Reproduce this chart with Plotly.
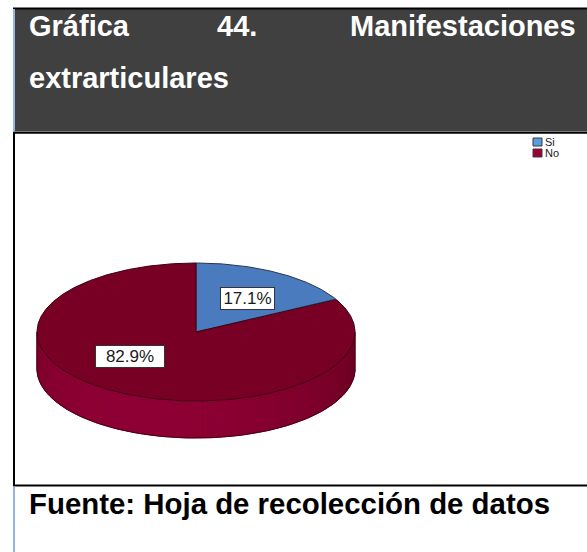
import numpy as np
import plotly.graph_objects as go

# Data
categories = ["Si", "No"]
percentages = [17.1, 82.9]

# Styling
TOP_COLORS = ["#4A7BBE", "#790025"]
EDGE_COLORS = ["#263650", "#3E0012"]
LEGEND_COLORS = ["#5B9BE3", "#99003A"]
SIDE_DARK = np.array([0x5C, 0x00, 0x1B])
SIDE_LIGHT = np.array([0x8E, 0x00, 0x33])
FONT = "Liberation Sans, Arial, sans-serif"

W, H = 587, 552
# Pie geometry (pixel space of the page)
CX, CY, RX, RY, DEPTH = 196, 332, 159, 69, 37
START_ANGLE = 90.0


def ellipse_pt(theta_deg, dy=0.0):
    t = np.radians(theta_deg)
    return CX + RX * np.cos(t), CY - RY * np.sin(t) + dy


def side_color(theta_deg):
    # light coming from the front-left
    k = 0.5 + 0.5 * np.cos(np.radians(theta_deg - 250.0))
    c = SIDE_DARK + (SIDE_LIGHT - SIDE_DARK) * k ** 1.2
    return "rgb(%d,%d,%d)" % tuple(int(round(v)) for v in c)


total = float(sum(percentages))
bounds = [START_ANGLE]
for p in percentages:
    bounds.append(bounds[-1] - 360.0 * p / total)

fig = go.Figure()

# --- side walls (only the front half of the cylinder is visible) ---
for i in range(len(categories)):
    a0, a1 = bounds[i], bounds[i + 1]
    span = a0 - a1
    n = max(int(span / 1.5), 1)
    edges = np.linspace(a0, a1, n + 1)
    # base wall for the slice's visible part
    vis = [a for a in np.linspace(a0, a1, n * 4 + 1) if np.sin(np.radians(a)) <= 1e-9]
    if len(vis) > 1:
        xs_top, ys_top = ellipse_pt(np.array(vis))
        xs_bot, ys_bot = ellipse_pt(np.array(vis[::-1]), DEPTH)
        fig.add_trace(go.Scatter(
            x=np.concatenate([xs_top, xs_bot]), y=np.concatenate([ys_top, ys_bot]),
            mode="lines", fill="toself", fillcolor=side_color(np.mean(vis)),
            line=dict(width=0), hoverinfo="skip", showlegend=False))
    for j in range(n):
        s0, s1 = edges[j], edges[j + 1]
        mid = 0.5 * (s0 + s1)
        if np.sin(np.radians(mid)) > 0:
            continue
        seg = np.linspace(s0, s1, 4)
        xs_top, ys_top = ellipse_pt(seg)
        xs_bot, ys_bot = ellipse_pt(seg[::-1], DEPTH)
        col = side_color(mid % 360)
        fig.add_trace(go.Scatter(
            x=np.concatenate([xs_top, xs_bot]), y=np.concatenate([ys_top, ys_bot]),
            mode="lines", fill="toself", fillcolor=col,
            line=dict(width=0.8, color=col), hoverinfo="skip", showlegend=False))

# outline of the bottom rim and the vertical edges
rim = np.linspace(180, 360, 181)
bx, by = ellipse_pt(rim, DEPTH)
fig.add_trace(go.Scatter(x=bx, y=by, mode="lines", line=dict(width=1, color="#4A0016"),
                         hoverinfo="skip", showlegend=False))
for a in (180, 360):
    x0, y0 = ellipse_pt(a)
    fig.add_trace(go.Scatter(x=[x0, x0], y=[y0, y0 + DEPTH], mode="lines",
                             line=dict(width=1, color="#4A0016"),
                             hoverinfo="skip", showlegend=False))

# --- top faces ---
for i, name in enumerate(categories):
    a0, a1 = bounds[i], bounds[i + 1]
    arc = np.linspace(a0, a1, max(int((a0 - a1) * 2), 2))
    ax_, ay_ = ellipse_pt(arc)
    fig.add_trace(go.Scatter(
        x=np.concatenate([[CX], ax_, [CX]]), y=np.concatenate([[CY], ay_, [CY]]),
        mode="lines", fill="toself", fillcolor=TOP_COLORS[i],
        line=dict(width=1, color=EDGE_COLORS[i]), name=name,
        hoverinfo="skip", showlegend=False))

# --- page frame: header band, borders ---
shapes = [
    dict(type="rect", x0=14, x1=W, y0=9, y1=131.5, fillcolor="#404040", line=dict(width=0)),
    dict(type="line", x0=13, x1=W, y0=8.5, y1=8.5, line=dict(color="black", width=2)),
    dict(type="line", x0=14, x1=14, y0=9, y1=131.5, line=dict(color="#93B6E0", width=2)),
    dict(type="line", x0=13, x1=W, y0=132.8, y1=132.8, line=dict(color="black", width=2)),
    dict(type="line", x0=14, x1=14, y0=132, y1=486, line=dict(color="black", width=2)),
    dict(type="line", x0=13, x1=W, y0=485.5, y1=485.5, line=dict(color="black", width=2)),
    dict(type="line", x0=14, x1=14, y0=486.5, y1=H, line=dict(color="#93B6E0", width=2)),
]

# legend swatches
LEG_X, LEG_Y, LEG_SIZE, LEG_STEP = 533, 138, 9, 11
annotations = []
for i, name in enumerate(categories):
    y0 = LEG_Y + i * LEG_STEP
    shapes.append(dict(type="rect", x0=LEG_X, x1=LEG_X + LEG_SIZE, y0=y0, y1=y0 + LEG_SIZE - 1,
                       fillcolor=LEGEND_COLORS[i], line=dict(color="#3A3A3A", width=1)))
    annotations.append(dict(x=LEG_X + LEG_SIZE + 1, y=y0 + (LEG_SIZE - 1) / 2, text=name,
                            xanchor="left", yanchor="middle", showarrow=False,
                            font=dict(family=FONT, size=11, color="#222222")))

# header and footer text
title_font = dict(family=FONT, size=29, color="white")
for txt, x, y in [("<b>Gráfica</b>", 27, 25.5), ("<b>44.</b>", 215, 25.5),
                  ("<b>Manifestaciones</b>", 348, 25.5), ("<b>extrarticulares</b>", 27, 78)]:
    annotations.append(dict(x=x, y=y, text=txt, xanchor="left", yanchor="middle",
                            showarrow=False, font=title_font))
annotations.append(dict(x=27, y=503.5, text="<b>Fuente: Hoja de recolección de datos</b>",
                        xanchor="left", yanchor="middle", showarrow=False,
                        font=dict(family=FONT, size=29.4, color="black")))

# value labels on the slices
LABEL_POS = [(247.5, 298.5), (130, 356.5)]
LABEL_BOX_W = [51, 66]
for (lx, ly), bw, p in zip(LABEL_POS, LABEL_BOX_W, percentages):
    annotations.append(dict(x=lx, y=ly, text=f"{p:.1f}%", showarrow=False,
                            xanchor="center", yanchor="middle", width=bw, height=19,
                            align="center", valign="middle",
                            bgcolor="white", bordercolor="#333333", borderwidth=1, borderpad=1,
                            font=dict(family=FONT, size=17, color="#1A1A1A")))

fig.update_layout(
    width=W, height=H,
    margin=dict(l=0, r=0, t=0, b=0),
    paper_bgcolor="white", plot_bgcolor="white",
    xaxis=dict(range=[0, W], visible=False, fixedrange=True),
    yaxis=dict(range=[H, 0], visible=False, fixedrange=True),
    shapes=shapes, annotations=annotations, showlegend=False,
)

fig.write_html("out.html")
